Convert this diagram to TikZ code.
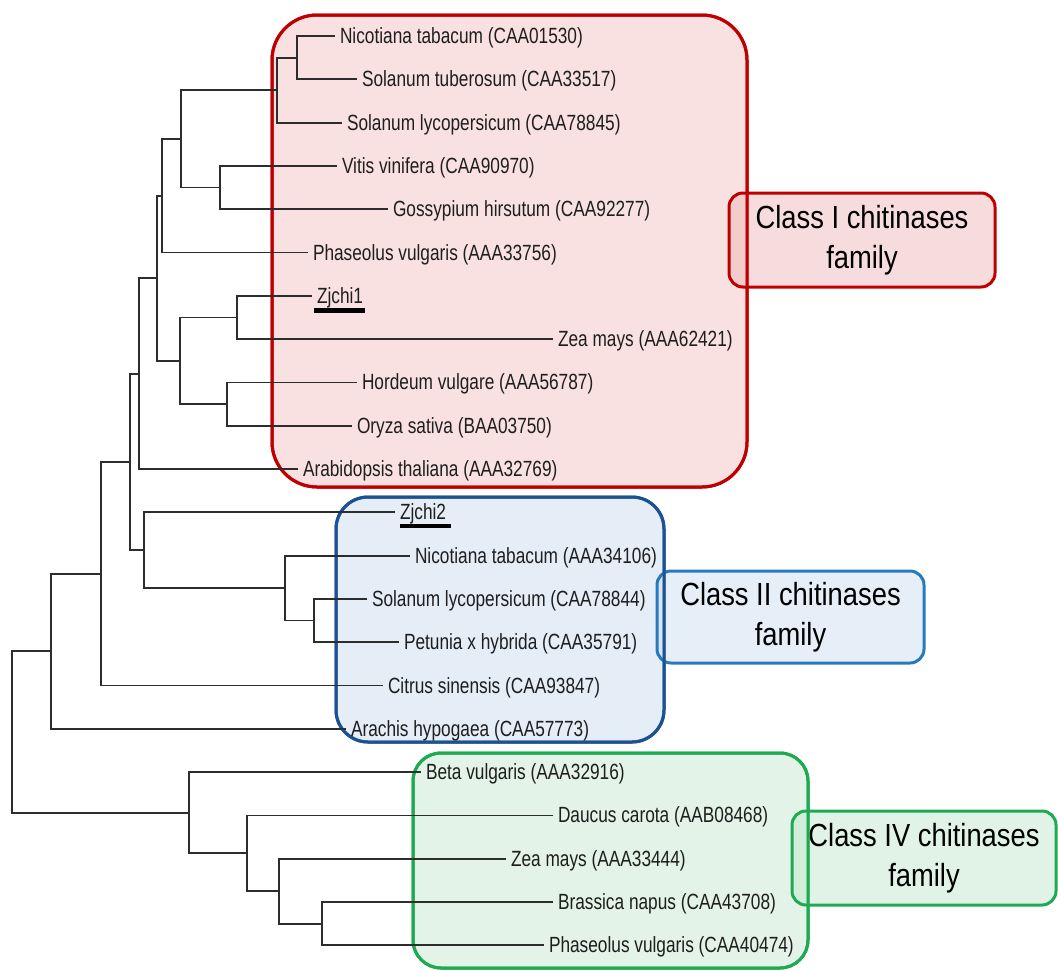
\documentclass[tikz,border=0pt]{standalone}
\usepackage{fontspec}
\setmainfont{Liberation Sans}[FakeStretch=0.785]
\newfontfamily\classfont{Liberation Sans}[FakeStretch=0.855]
\definecolor{redline}{RGB}{192,0,0}
\definecolor{redfill}{RGB}{249,225,225}
\definecolor{redlab}{RGB}{238,185,185}
\definecolor{bluebig}{RGB}{28,82,145}
\definecolor{bluefill}{RGB}{229,237,247}
\definecolor{bluelabline}{RGB}{40,122,192}
\definecolor{bluelab}{RGB}{205,222,242}
\definecolor{greenline}{RGB}{30,170,80}
\definecolor{greenfill}{RGB}{227,243,231}
\definecolor{greenlab}{RGB}{195,232,205}
\definecolor{treeline}{RGB}{45,45,45}
\definecolor{txt}{RGB}{30,30,30}
\tikzset{
  branch/.style={draw=treeline, line width=1.8pt},
  leaf/.style={anchor=base west, inner sep=0pt, outer sep=0pt, xshift=5pt, yshift=-7.5pt,
    text=txt, font=\fontsize{22}{26}\selectfont},
  bigbox/.style={line width=3pt},
  classlabel/.style={rounded corners=14pt, line width=3pt, align=center, inner sep=0pt,
    outer sep=0pt, text=black, font=\classfont\fontsize{32}{40}\selectfont,
    fill opacity=0.5, text opacity=1},
  hibar/.style={draw=black, line width=4.5pt}
}
\begin{document}
\begin{tikzpicture}[x=1pt, y={(0pt,-1pt)}]
\useasboundingbox (0,0) rectangle (1058,970);

% ---- group boxes (fill + outline)
\draw[bigbox, draw=redline, fill=redfill, rounded corners=45pt] (272,15) rectangle (747,487);
\draw[bigbox, draw=bluebig, fill=bluefill, rounded corners=32pt] (336,497) rectangle (664,742);
\draw[bigbox, draw=greenline, fill=greenfill, rounded corners=28pt] (413,753) rectangle (808,968);

% ---- class labels
\node[classlabel, draw=redline, fill=redlab, minimum width=266pt, minimum height=94pt]
  (cls1) at (862,240) {Class I chitinases\\family};
\node[classlabel, draw=bluelabline, fill=bluelab, minimum width=267pt, minimum height=92pt]
  (cls2) at (790.5,617) {Class II chitinases\\family};
\node[classlabel, draw=greenline, fill=greenlab, minimum width=264pt, minimum height=94pt]
  (cls4) at (924,858) {Class IV chitinases\\family};

% ---- group box outlines re-stroked (visible through labels)
\draw[bigbox, draw=redline, rounded corners=45pt] (272,15) rectangle (747,487);
\draw[bigbox, draw=bluebig, rounded corners=32pt] (336,497) rectangle (664,742);
\draw[bigbox, draw=greenline, rounded corners=28pt] (413,753) rectangle (808,968);

% ---- leaf end points
\coordinate (L1)  at (335,36);
\coordinate (L2)  at (357,79.3);
\coordinate (L3)  at (342,122.6);
\coordinate (L4)  at (337,165.9);
\coordinate (L5)  at (388,209.2);
\coordinate (L6)  at (308,252.5);
\coordinate (L7)  at (312,295.8);
\coordinate (L8)  at (553,339.1);
\coordinate (L9)  at (357,382.4);
\coordinate (L10) at (352,425.7);
\coordinate (L11) at (298,469);
\coordinate (L12) at (395,512.3);
\coordinate (L13) at (410,555.6);
\coordinate (L14) at (367,598.9);
\coordinate (L15) at (399,642.2);
\coordinate (L16) at (383,685.5);
\coordinate (L17) at (346,728.8);
\coordinate (L18) at (421,772.1);
\coordinate (L19) at (553,815.4);
\coordinate (L20) at (506,858.7);
\coordinate (L21) at (553,902);
\coordinate (L22) at (544,945.3);

% ---- internal nodes
\coordinate (A) at (297,57.65);
\coordinate (B) at (277,90.1);
\coordinate (C) at (220,187.55);
\coordinate (D) at (181,138.8);
\coordinate (E) at (162,195.7);
\coordinate (G) at (237,317.45);
\coordinate (H) at (227,404.05);
\coordinate (I) at (180,360.75);
\coordinate (F) at (157,278.2);
\coordinate (J) at (139,373.6);
\coordinate (N) at (314,620.55);
\coordinate (M) at (285,588.1);
\coordinate (Lc) at (144,550.2);
\coordinate (K) at (130,461.9);
\coordinate (P) at (101,573.7);
\coordinate (Q) at (51,651.25);
\coordinate (V) at (322,923.65);
\coordinate (U) at (279,891.2);
\coordinate (T) at (247,853.3);
\coordinate (S) at (189,812.7);
\coordinate (R) at (12,732);

% ---- branches
\draw[branch] (A) |- (L1);  \draw[branch] (A) |- (L2);
\draw[branch] (B) |- (A);   \draw[branch] (B) |- (L3);
\draw[branch] (C) |- (L4);  \draw[branch] (C) |- (L5);
\draw[branch] (D) |- (B);   \draw[branch] (D) |- (C);
\draw[branch] (E) |- (D);   \draw[branch] (E) |- (L6);
\draw[branch] (G) |- (L7);  \draw[branch] (G) |- (L8);
\draw[branch] (H) |- (L9);  \draw[branch] (H) |- (L10);
\draw[branch] (I) |- (G);   \draw[branch] (I) |- (H);
\draw[branch] (F) |- (E);   \draw[branch] (F) |- (I);
\draw[branch] (J) |- (F);   \draw[branch] (J) |- (L11);
\draw[branch] (N) |- (L14); \draw[branch] (N) |- (L15);
\draw[branch] (M) |- (L13); \draw[branch] (M) |- (N);
\draw[branch] (Lc) |- (L12); \draw[branch] (Lc) |- (M);
\draw[branch] (K) |- (J);   \draw[branch] (K) |- (Lc);
\draw[branch] (P) |- (K);   \draw[branch] (P) |- (L16);
\draw[branch] (Q) |- (P);   \draw[branch] (Q) |- (L17);
\draw[branch] (V) |- (L21); \draw[branch] (V) |- (L22);
\draw[branch] (U) |- (L20); \draw[branch] (U) |- (V);
\draw[branch] (T) |- (L19); \draw[branch] (T) |- (U);
\draw[branch] (S) |- (L18); \draw[branch] (S) |- (T);
\draw[branch] (R) |- (Q);   \draw[branch] (R) |- (S);

% ---- leaf labels
\node[leaf] (t1)  at (L1)  {Nicotiana tabacum (CAA01530)};
\node[leaf] (t2)  at (L2)  {Solanum tuberosum (CAA33517)};
\node[leaf] (t3)  at (L3)  {Solanum lycopersicum (CAA78845)};
\node[leaf] (t4)  at (L4)  {Vitis vinifera (CAA90970)};
\node[leaf] (t5)  at (L5)  {Gossypium hirsutum (CAA92277)};
\node[leaf] (t6)  at (L6)  {Phaseolus vulgaris (AAA33756)};
\node[leaf] (t7)  at (L7)  {\underline{Zjchi1}};
\node[leaf] (t8)  at (L8)  {Zea mays (AAA62421)};
\node[leaf] (t9)  at (L9)  {Hordeum vulgare (AAA56787)};
\node[leaf] (t10) at (L10) {Oryza sativa (BAA03750)};
\node[leaf] (t11) at (L11) {Arabidopsis thaliana (AAA32769)};
\node[leaf] (t12) at (L12) {\underline{Zjchi2}};
\node[leaf] (t13) at (L13) {Nicotiana tabacum (AAA34106)};
\node[leaf] (t14) at (L14) {Solanum lycopersicum (CAA78844)};
\node[leaf] (t15) at (L15) {Petunia x hybrida (CAA35791)};
\node[leaf] (t16) at (L16) {Citrus sinensis (CAA93847)};
\node[leaf] (t17) at (L17) {Arachis hypogaea (CAA57773)};
\node[leaf] (t18) at (L18) {Beta vulgaris (AAA32916)};
\node[leaf] (t19) at (L19) {Daucus carota (AAB08468)};
\node[leaf] (t20) at (L20) {Zea mays (AAA33444)};
\node[leaf] (t21) at (L21) {Brassica napus (CAA43708)};
\node[leaf] (t22) at (L22) {Phaseolus vulgaris (CAA40474)};

% ---- highlight bars under Zjchi1 / Zjchi2
\draw[hibar] ([xshift=-3pt,yshift=-7pt]t7.base west) -- ([xshift=2pt,yshift=-7pt]t7.base east);
\draw[hibar] ([xshift=0pt,yshift=-6pt]t12.base west) -- ([xshift=5pt,yshift=-6pt]t12.base east);
\end{tikzpicture}
\end{document}
